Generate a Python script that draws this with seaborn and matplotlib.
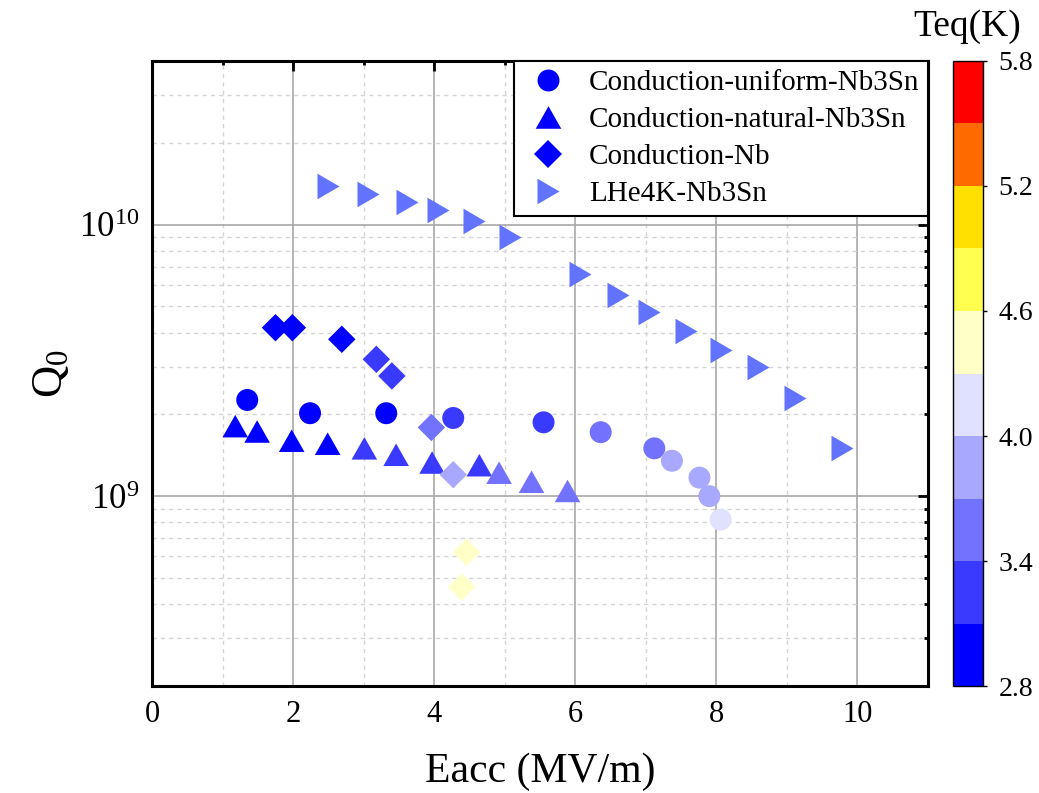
import matplotlib
matplotlib.use("Agg")
import matplotlib.pyplot as plt
import matplotlib.ticker as mticker
from matplotlib.colors import ListedColormap, BoundaryNorm
from matplotlib.cm import ScalarMappable
from matplotlib.lines import Line2D
import numpy as np
import pandas as pd
import seaborn as sns

# ---- data ----
x_uniform = [1.35, 2.24, 3.32, 4.27, 5.55, 6.36, 7.12, 7.37, 7.76, 7.90, 8.06]
q_uniform = [2.26e9, 2.02e9, 2.02e9, 1.94e9, 1.87e9, 1.72e9, 1.50e9, 1.35e9, 1.17e9, 1.00e9, 8.2e8]
t_uniform = [2.9, 2.9, 2.9, 3.25, 3.25, 3.55, 3.55, 3.85, 3.85, 3.85, 4.15]

x_natural = [1.18, 1.49, 1.98, 2.49, 3.01, 3.46, 3.97, 4.64, 4.92, 5.38, 5.89]
q_natural = [1.81e9, 1.73e9, 1.60e9, 1.56e9, 1.50e9, 1.42e9, 1.33e9, 1.30e9, 1.22e9, 1.13e9, 1.045e9]
t_natural = [2.9, 2.9, 2.9, 2.9, 3.25, 3.25, 3.25, 3.25, 3.55, 3.55, 3.55]

x_nb = [1.75, 1.99, 2.69, 3.18, 3.40, 3.96, 4.27, 4.46, 4.39]
q_nb = [4.17e9, 4.17e9, 3.78e9, 3.19e9, 2.77e9, 1.79e9, 1.20e9, 6.22e8, 4.63e8]
t_nb = [2.9, 2.9, 2.9, 3.25, 3.25, 3.55, 3.85, 4.45, 4.45]

x_lhe = [2.49, 3.06, 3.62, 4.05, 4.56, 5.07, 6.06, 6.60, 7.04, 7.57, 8.07, 8.59, 9.12, 9.78]
q_lhe = [1.39e10, 1.30e10, 1.21e10, 1.135e10, 1.026e10, 9.02e9, 6.59e9, 5.49e9,
         4.76e9, 4.05e9, 3.45e9, 2.98e9, 2.30e9, 1.50e9]

labels = ["Conduction-uniform-Nb3Sn", "Conduction-natural-Nb3Sn", "Conduction-Nb", "LHe4K-Nb3Sn"]

teq_bounds = [2.8, 3.1, 3.4, 3.7, 4.0, 4.3, 4.6, 4.9, 5.2, 5.5, 5.8]
teq_ticks = [2.8, 3.4, 4.0, 4.6, 5.2, 5.8]
teq_colors = ["#0000ff", "#3a3aff", "#7272ff", "#a8a8ff", "#e0e0ff",
              "#ffffc8", "#ffff50", "#ffe000", "#ff6a00", "#ff0000"]
lhe_color = "#6274ff"

# ---- style ----
sns.set_style("white")
plt.rcParams["font.family"] = ["Liberation Serif", "DejaVu Serif"]
plt.rcParams["mathtext.fontset"] = "custom"
plt.rcParams["mathtext.rm"] = "Liberation Serif"
plt.rcParams["mathtext.it"] = "Liberation Serif:italic"
for key in ["text.color", "axes.labelcolor", "xtick.color", "ytick.color", "axes.edgecolor"]:
    plt.rcParams[key] = "black"

cmap = ListedColormap(teq_colors)
norm = BoundaryNorm(teq_bounds, cmap.N)

# custom markers: slightly flattened triangles like the original
tri_up = [(-1, -0.88), (1, -0.88), (0, 0.88)]
tri_right = [(-0.86, -1), (0.86, 0), (-0.86, 1)]

series = [
    (x_uniform, q_uniform, t_uniform, "o", 250),
    (x_natural, q_natural, t_natural, tri_up, 340),
    (x_nb, q_nb, t_nb, "D", 195),
]

fig = plt.figure(figsize=(10.39, 7.93), dpi=100)
ax = fig.add_axes([0.1463, 0.1349, 0.7469, 0.7882])

for xs, qs, ts, mk, s in series:
    df = pd.DataFrame({"Eacc": xs, "Q0": qs, "T": ts})
    sns.scatterplot(data=df, x="Eacc", y="Q0", hue="T", palette=cmap, hue_norm=norm,
                    marker=mk, s=s, linewidth=0, legend=False, ax=ax, zorder=3)

df_lhe = pd.DataFrame({"Eacc": x_lhe, "Q0": q_lhe})
sns.scatterplot(data=df_lhe, x="Eacc", y="Q0", color=lhe_color, marker=tri_right,
                s=340, linewidth=0, legend=False, ax=ax, zorder=3)

ax.set_yscale("log")
ax.set_xlim(0, 11)
ax.set_ylim(2e8, 4e10)
ax.xaxis.set_major_locator(mticker.MultipleLocator(2))
ax.xaxis.set_minor_locator(mticker.MultipleLocator(1))
ax.yaxis.set_major_locator(mticker.LogLocator(base=10, numticks=10))
ax.yaxis.set_minor_locator(mticker.LogLocator(base=10, subs=np.arange(2, 10), numticks=20))
ax.yaxis.set_minor_formatter(mticker.NullFormatter())

ax.grid(which="major", color="#a8a8a8", linewidth=1.2, linestyle="-")
ax.grid(which="minor", color="#d4d4d4", linewidth=1.0, linestyle=(0, (3, 3)))
ax.set_axisbelow(True)

for sp in ax.spines.values():
    sp.set_linewidth(2.2)
    sp.set_color("black")
ax.tick_params(which="both", direction="in", top=True, right=True, width=2, color="black")
ax.tick_params(which="major", length=7, pad=10)
ax.tick_params(axis="x", which="major", labelsize=22)
ax.tick_params(axis="y", which="major", labelsize=25, pad=9)
ax.tick_params(which="minor", length=3.2)

ax.set_xlabel("Eacc (MV/m)", fontsize=30, labelpad=17)
ax.set_ylabel(r"Q$_0$", fontsize=32, labelpad=6)

handles = [
    Line2D([], [], linestyle="", marker="o", markersize=np.sqrt(250), color="#0000ff", markeredgewidth=0),
    Line2D([], [], linestyle="", marker=tri_up, markersize=np.sqrt(340), color="#0000ff", markeredgewidth=0),
    Line2D([], [], linestyle="", marker="D", markersize=np.sqrt(195), color="#0000ff", markeredgewidth=0),
    Line2D([], [], linestyle="", marker=tri_right, markersize=np.sqrt(340), color=lhe_color, markeredgewidth=0),
]
leg = ax.legend(handles, labels, loc="upper right", bbox_to_anchor=(1, 1), borderaxespad=0,
                fontsize=21, frameon=True, fancybox=False, framealpha=1, edgecolor="black",
                handlelength=1.7, handletextpad=0.55, borderpad=0.3, labelspacing=0.36)
leg.get_frame().set_linewidth(1.5)
leg.set_zorder(5)

# colorbar
cax = fig.add_axes([0.9172, 0.1349, 0.0289, 0.7882])
cb = fig.colorbar(ScalarMappable(norm=norm, cmap=cmap), cax=cax, ticks=teq_ticks,
                  spacing="proportional")
cb.ax.yaxis.set_major_formatter(mticker.FormatStrFormatter("%.1f"))
cb.ax.tick_params(labelsize=20, length=3, width=1, pad=8, colors="black")
cb.outline.set_linewidth(1)
cb.ax.minorticks_off()
fig.text(0.931, 0.966, "Teq(K)", fontsize=27, ha="center", va="center")

fig.savefig("out.png", dpi=100)
